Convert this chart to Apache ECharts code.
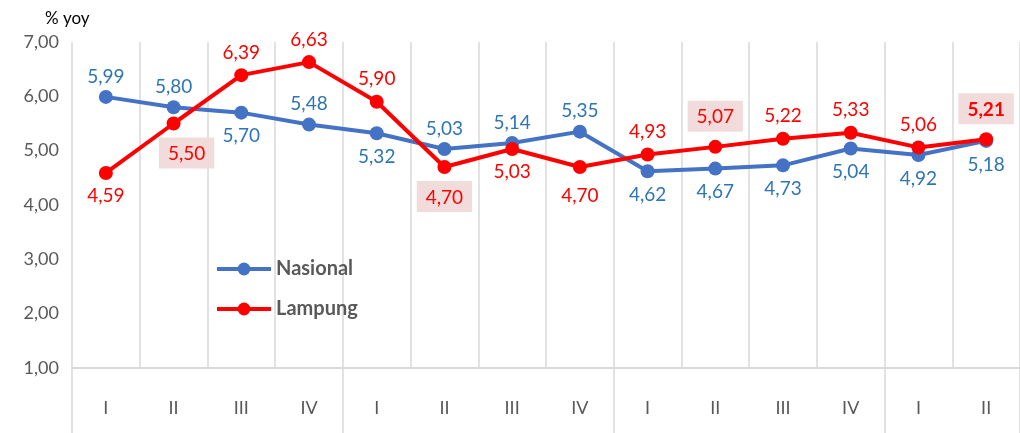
<!DOCTYPE html>
<html>
<head>
<meta charset="utf-8">
<script src="https://cdn.jsdelivr.net/npm/echarts@6/dist/echarts.min.js"></script>
<style>
  html, body { margin: 0; padding: 0; background: #fff; }
  #chart { width: 1020px; height: 433px; }
</style>
</head>
<body>
<div id="chart"></div>
<script>
const quarters = ['I', 'II', 'III', 'IV', 'I', 'II', 'III', 'IV', 'I', 'II', 'III', 'IV', 'I', 'II']
const nasional = [5.99, 5.80, 5.70, 5.48, 5.32, 5.03, 5.14, 5.35, 4.62, 4.67, 4.73, 5.04, 4.92, 5.18]
const lampung = [4.59, 5.50, 6.39, 6.63, 5.90, 4.70, 5.03, 4.70, 4.93, 5.07, 5.22, 5.33, 5.06, 5.21]

// label placement (style only)
const nasPos = ['top', 'top', 'bottom', 'top', 'bottom', 'top', 'top', 'top', 'bottom', 'bottom', 'bottom', 'bottom', 'bottom', 'bottom']
const lamPos = ['bottom', 'bottom', 'top', 'top', 'top', 'bottom', 'bottom', 'bottom', 'top', 'top', 'top', 'top', 'top', 'top']
const lamBoxed = [1, 5, 9, 13]

const fmt = v => v.toFixed(2).replace('.', ',')
const FONT = 'Lato, "Open Sans", sans-serif'

const nasData = nasional.map((v, i) => ({
  value: v,
  label: { position: nasPos[i], distance: nasPos[i] === 'bottom' ? 7 : 4 }
}))
const lamData = lampung.map((v, i) => {
  const boxed = lamBoxed.includes(i)
  const lab = { position: lamPos[i], distance: i === 7 ? 12 : 6 }
  if (boxed) {
    lab.backgroundColor = '#F2DCDB'
    lab.padding = [7, 9, 5, 9]
    lab.distance = lamPos[i] === 'top' ? 8 : 7
  }
  if (i === 1) lab.offset = [13, 0]
  if (i === 13) lab.fontWeight = 'bold'
  return { value: v, label: lab }
})

const chart = echarts.init(document.getElementById('chart'))
chart.setOption({
  animation: false,
  textStyle: { fontFamily: FONT },
  title: {
    text: '% yoy',
    left: 40,
    top: 5,
    textStyle: { fontSize: 17, fontWeight: 'normal', color: '#000', fontFamily: FONT }
  },
  legend: {
    orient: 'vertical',
    left: 210,
    top: 254,
    itemGap: 20,
    itemWidth: 54,
    itemHeight: 16,
    lineStyle: { width: 4 },
    textStyle: { fontSize: 20, fontWeight: 'bold', color: '#595959', fontFamily: FONT },
    data: ['Nasional', 'Lampung']
  },
  grid: { left: 72, top: 42, width: 950, height: 326 },
  xAxis: {
    type: 'category',
    boundaryGap: true,
    data: quarters,
    axisLine: { lineStyle: { color: '#d9d9d9', width: 2 } },
    axisTick: {
      show: true,
      length: 65,
      interval: (idx) => idx % 4 === 0,
      lineStyle: { color: '#d9d9d9', width: 1.5 }
    },
    axisLabel: { margin: 31, fontSize: 18, color: '#595959', fontFamily: FONT },
    splitLine: { show: true, interval: 0, lineStyle: { color: '#d9d9d9', width: 1.5 } }
  },
  yAxis: {
    type: 'value',
    min: 1,
    max: 7,
    interval: 1,
    axisLine: { show: false },
    axisTick: { show: false },
    splitLine: { show: false },
    axisLabel: { margin: 13, fontSize: 18, color: '#595959', fontFamily: FONT, formatter: v => fmt(v) }
  },
  series: [
    {
      name: 'Nasional',
      type: 'line',
      data: nasData,
      symbol: 'circle',
      symbolSize: 14,
      lineStyle: { color: '#4472C4', width: 4 },
      itemStyle: { color: '#4472C4' },
      label: { show: true, fontSize: 19, color: '#2E75B6', fontFamily: FONT, formatter: p => fmt(p.value) }
    },
    {
      name: 'Lampung',
      type: 'line',
      data: lamData,
      symbol: 'circle',
      symbolSize: 14,
      lineStyle: { color: '#FF0000', width: 4 },
      itemStyle: { color: '#FF0000' },
      label: { show: true, fontSize: 19, color: '#FF0000', fontFamily: FONT, formatter: p => fmt(p.value) }
    }
  ]
})
</script>
</body>
</html>
